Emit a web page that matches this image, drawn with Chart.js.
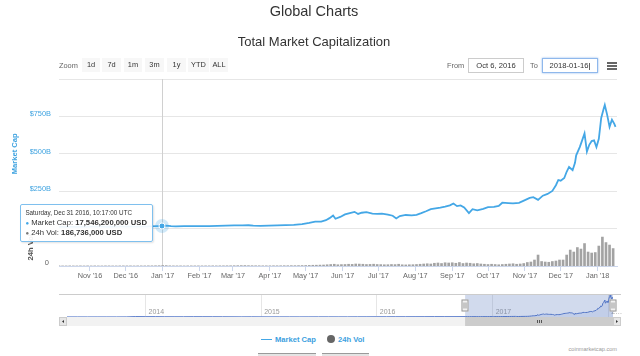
<!DOCTYPE html>
<html><head><meta charset="utf-8">
<script src="https://cdn.jsdelivr.net/npm/chart.js@4.4.1/dist/chart.umd.min.js"></script>
<style>
html,body{margin:0;padding:0;background:#fff;width:640px;height:356px;overflow:hidden;font-family:"Liberation Sans",Arial,sans-serif;}
#wrap{position:relative;width:640px;height:356px;}
.abs{position:absolute;}
#title{left:0;width:628px;top:3px;text-align:center;font-size:14.5px;color:#333;}
#subtitle{left:0;width:628px;top:34px;text-align:center;font-size:13px;color:#333;}
.lbl{font-size:7.4px;color:#666;top:61px;}
.btn{top:58px;height:14px;line-height:14px;background:#f7f7f7;color:#333;font-size:7.4px;text-align:center;}
.inp{top:58px;height:13px;line-height:13px;border:1px solid #cccccc;font-size:7.6px;color:#333;text-align:center;background:#fff;}
#to{border:1px solid #8fb8ec;box-shadow:0 0 2px #8fb8ec;}
.ham{left:607px;width:10px;height:1.6px;background:#666;}
#main{left:0;top:0;}
#nav{left:0;top:290px;}
#tip{background:rgba(255,255,255,0.92);border:1px solid #7fc0ee;border-radius:2px;padding:3px 5px 3px 4px;font-size:7.7px;color:#333;white-space:nowrap;box-shadow:1px 1px 2px rgba(0,0,0,0.12);line-height:9px;}
#tip .tt{font-size:6.3px;color:#333;line-height:10px;}
#tip .dot{font-size:6px;}
.leg{top:335px;font-size:7.6px;font-weight:bold;color:#3d9fe0;}
#credits{right:23px;top:346px;font-size:5.6px;color:#999;}
.bbox{top:353px;height:3px;background:#e4e4e4;border-top:1.5px solid #9a9a9a;}
</style>
</head>
<body>
<div id="wrap">
<canvas id="main" class="abs" width="640" height="290"></canvas>
<canvas id="nav" class="abs" width="640" height="40"></canvas>
<div id="title" class="abs">Global Charts</div>
<div id="subtitle" class="abs">Total Market Capitalization</div>
<div class="abs lbl" style="left:59px;">Zoom</div>
<div id="btns"></div>
<div class="abs lbl" style="left:447px;">From</div>
<div class="abs inp" style="left:468px;width:54px;">Oct 6, 2016</div>
<div class="abs lbl" style="left:530px;">To</div>
<div id="to" class="abs inp" style="left:542px;width:54px;">2018-01-16<span style="color:#000">|</span></div>
<div class="abs ham" style="top:62px"></div>
<div class="abs ham" style="top:65.2px"></div>
<div class="abs ham" style="top:68.4px"></div>
<div id="tip" class="abs"></div>
<div class="abs" style="left:261px;top:338.5px;width:11px;height:1.6px;background:#44a7e6;"></div>
<div class="abs leg" style="left:275px;" id="leg1"></div>
<div class="abs" style="left:327px;top:335px;width:8px;height:8px;border-radius:50%;background:#666;"></div>
<div class="abs leg" style="left:338px;" id="leg2"></div>
<div id="credits" class="abs">coinmarketcap.com</div>
<div class="abs bbox" style="left:258px;width:58px;"></div>
<div class="abs bbox" style="left:322px;width:47px;"></div>
</div>
<script>
// ================= DATA =================
const rangeButtons = ['1d','7d','1m','3m','1y','YTD','ALL'];
const capSeriesName = 'Market Cap';
const volSeriesName = '24h Vol';

// Total market capitalization, billions USD
const capDates = ['2016-10-06','2016-10-13','2016-10-20','2016-10-27','2016-11-03','2016-11-10','2016-11-17','2016-11-24',
 '2016-12-01','2016-12-08','2016-12-15','2016-12-22','2016-12-27','2016-12-31T10:17:00Z','2017-01-04','2017-01-08',
 '2017-01-12','2017-01-19','2017-01-26','2017-02-02','2017-02-09','2017-02-16','2017-02-23','2017-03-02','2017-03-09',
 '2017-03-14','2017-03-18','2017-03-24','2017-03-31','2017-04-07','2017-04-14','2017-04-21','2017-04-28','2017-05-04',
 '2017-05-09','2017-05-14','2017-05-18','2017-05-21','2017-05-24','2017-05-26','2017-05-30','2017-06-03','2017-06-07',
 '2017-06-11','2017-06-14','2017-06-17','2017-06-21','2017-06-26','2017-06-30','2017-07-04','2017-07-09','2017-07-13',
 '2017-07-16','2017-07-19','2017-07-24','2017-07-29','2017-08-02','2017-08-06','2017-08-10','2017-08-14','2017-08-18',
 '2017-08-22','2017-08-26','2017-08-30','2017-09-02','2017-09-05','2017-09-08','2017-09-11','2017-09-15','2017-09-18',
 '2017-09-22','2017-09-27','2017-10-01','2017-10-06','2017-10-10','2017-10-13','2017-10-18','2017-10-22','2017-10-27',
 '2017-11-01','2017-11-05','2017-11-08','2017-11-12','2017-11-16','2017-11-20','2017-11-24','2017-11-27','2017-11-29',
 '2017-12-01','2017-12-04','2017-12-06','2017-12-08','2017-12-11','2017-12-13','2017-12-14','2017-12-17','2017-12-19',
 '2017-12-21','2017-12-23','2017-12-25','2017-12-27','2017-12-29','2017-12-31','2018-01-02','2018-01-04','2018-01-06',
 '2018-01-07','2018-01-09','2018-01-11','2018-01-13','2018-01-15','2018-01-16'];
const capValues = [11.9,11.8,12.0,12.5,13.0,12.6,12.5,12.9,
 13.4,13.5,13.7,15.5,16.8,17.5462,19.5,16.0,
 14.8,16.0,16.5,17.0,16.8,17.8,19.5,21.0,21.5,
 22.5,19.5,18.5,20.5,22.0,23.0,25.0,30.0,38.0,
 46.0,47.0,56.0,70.0,88.0,66.0,78.0,95.0,104.0,
 112.0,98.0,106.0,110.0,100.0,98.0,100.0,94.0,86.0,
 68.0,84.0,91.0,88.0,92.0,103.0,116.0,130.0,135.0,
 140.0,147.0,155.0,168.0,150.0,155.0,141.0,103.0,130.0,
 122.0,132.0,143.0,145.0,152.0,173.0,170.0,168.0,172.0,
 190.0,205.0,210.0,192.0,220.0,232.0,252.0,290.0,325.0,
 320.0,338.0,380.0,412.0,390.0,440.0,490.0,545.0,590.0,
 636.0,515.0,560.0,585.0,590.0,545.0,600.0,740.0,800.0,
 826.0,760.0,680.0,728.0,700.0,680.0];

// 24h volume, billions USD, one bar every 3 days from volStart
const volStart = '2016-10-06';
const volStepDays = 3;
const volValues = [0.2,0.2,0.2,0.3,0.2,0.2,0.3,0.2,0.3,
 0.2,0.3,0.2,0.2,0.3,0.3,0.2,0.2,0.3,0.3,
 0.3,0.3,0.2,0.3,0.3,0.3,0.4,0.4,0.5,0.6,
 1.0,0.8,0.4,0.3,0.3,0.3,0.2,0.3,0.3,0.3,
 0.3,0.3,0.3,0.3,0.4,0.3,0.4,0.4,0.5,0.5,
 0.6,0.7,0.8,0.9,0.7,0.6,0.5,0.5,0.4,0.4,
 0.4,0.5,0.5,0.5,0.6,0.6,0.7,0.7,0.8,0.9,
 1.0,1.2,1.5,1.6,1.8,2.0,2.5,3.0,3.5,2.5,2.8,
 3.0,3.5,3.2,4.0,3.8,3.5,3.0,3.2,3.6,3.0,
 2.8,2.5,2.6,3.0,2.8,3.5,2.4,2.2,2.5,2.6,
 3.0,3.5,4.0,4.5,4.0,5.5,6.0,5.0,6.5,6.0,
 6.5,5.5,7.0,5.0,6.0,5.5,4.5,5.0,4.0,3.5,
 3.0,3.5,3.0,2.5,3.0,3.5,4.0,4.5,3.5,4.0,5.0,
 7.0,8.0,12.0,22.0,9.0,8.0,7.5,9.0,10.0,12.0,
 12.0,22.0,32.0,28.0,37.0,34.0,45.0,28.0,26.0,27.0,
 40.0,58.0,47.0,42.0,35.0];

const xStart = '2016-10-06';
const xEnd = '2018-01-17T06:00:00Z';
const monthTicks = ['2016-11-01','2016-12-01','2017-01-01','2017-02-01','2017-03-01','2017-04-01','2017-05-01',
 '2017-06-01','2017-07-01','2017-08-01','2017-09-01','2017-10-01','2017-11-01','2017-12-01','2018-01-01'];
const monthLabels = ["Nov '16","Dec '16","Jan '17","Feb '17","Mar '17","Apr '17","May '17","Jun '17","Jul '17",
 "Aug '17","Sep '17","Oct '17","Nov '17","Dec '17","Jan '18"];
const capTickValues = [0,250,500,750,1000];
const capTickLabels = ['','$250B','$500B','$750B',''];
const volZeroLabel = '0';

// Navigator (whole history), billions USD
const navStart = '2013-04-28';
const navEnd = '2018-01-16';
const navDates = ['2013-04-28','2013-06-01','2013-07-01','2013-08-01','2013-09-01','2013-10-01','2013-11-01','2013-12-01',
 '2014-01-01','2014-02-01','2014-03-01','2014-04-01','2014-05-01','2014-06-01','2014-07-01','2014-08-01','2014-09-01',
 '2014-10-01','2014-11-01','2014-12-01','2015-01-01','2015-02-01','2015-03-01','2015-04-01','2015-05-01','2015-06-01',
 '2015-07-01','2015-08-01','2015-09-01','2015-10-01','2015-11-01','2015-12-01','2016-01-01','2016-02-01','2016-03-01',
 '2016-04-01','2016-05-01','2016-06-01','2016-07-01','2016-08-01','2016-09-01'];
const navValues = [1.6,1.3,1.1,1.3,1.6,1.7,2.6,13.0,
 10.5,11.0,7.5,6.5,6.5,8.9,8.5,8.0,6.8,
 5.4,4.6,5.4,4.6,3.3,3.9,3.7,3.5,3.6,
 4.2,4.3,3.6,3.7,4.9,5.8,6.9,6.6,7.8,
 7.8,8.5,9.2,11.0,10.1,10.1];
const yearTicks = ['2014-01-01','2015-01-01','2016-01-01','2017-01-01','2018-01-01'];
const yearLabels = ['2014','2015','2016','2017','2…'];

// Hovered point shown in the tooltip
const tooltipDate = '2016-12-31T10:17:00Z';
const tooltipTitle = 'Saturday, Dec 31 2016, 10:17:00 UTC';
const tooltipCap = 17546200000;
const tooltipVol = 186736000;
// ========================================

const DAY = 86400000;
const T = s => Date.parse(s.length === 10 ? s + 'T00:00:00Z' : s);
Chart.defaults.font.family = '"Liberation Sans", Arial, sans-serif';

const CAP_COLOR = '#44a7e6';
const capData = capDates.map((d, i) => ({x: T(d), y: capValues[i]}));
const volData = volValues.map((v, i) => ({x: T(volStart) + i * volStepDays * DAY, y: v}));

// range buttons
const btnLefts = [82, 102, 124, 145, 167, 188, 210];
const btnWidths = [18, 19, 18, 19, 19, 21, 18];
const bw = document.getElementById('btns');
rangeButtons.forEach((b, i) => {
  const d = document.createElement('div');
  d.className = 'abs btn';
  d.style.left = btnLefts[i] + 'px';
  d.style.width = btnWidths[i] + 'px';
  d.textContent = b;
  bw.appendChild(d);
});
document.getElementById('leg1').textContent = capSeriesName;
document.getElementById('leg2').textContent = volSeriesName;

const overlay = {
  id: 'overlay',
  beforeDatasetsDraw(chart) {
    const {ctx, chartArea: a, scales: {x}} = chart;
    const px = Math.round(x.getPixelForValue(T(tooltipDate))) + 0.5;
    ctx.save();
    ctx.strokeStyle = '#d0d0d0'; ctx.lineWidth = 1;
    ctx.beginPath(); ctx.moveTo(px, a.top); ctx.lineTo(px, a.bottom); ctx.stroke();
    ctx.restore();
  },
  afterDatasetsDraw(chart) {
    const {ctx, chartArea: a, scales: {x, y, yv}} = chart;
    const px = x.getPixelForValue(T(tooltipDate));
    const py = y.getPixelForValue(tooltipCap / 1e9);
    ctx.save();
    ctx.fillStyle = 'rgba(68,167,230,0.25)';
    ctx.beginPath(); ctx.arc(px, py, 7, 0, Math.PI * 2); ctx.fill();
    ctx.fillStyle = CAP_COLOR; ctx.strokeStyle = '#fff'; ctx.lineWidth = 1;
    ctx.beginPath(); ctx.arc(px, py, 3, 0, Math.PI * 2); ctx.fill(); ctx.stroke();
    ctx.restore();
    // axis titles
    const capMid = (a.top + y.getPixelForValue(0)) / 2;
    const volMid = (y.getPixelForValue(0) + a.bottom) / 2;
    ctx.save();
    ctx.font = 'bold 7.6px "Liberation Sans", Arial';
    ctx.fillStyle = '#3fa3e0'; ctx.textAlign = 'center'; ctx.textBaseline = 'middle';
    ctx.translate(15, capMid); ctx.rotate(-Math.PI / 2); ctx.fillText(capSeriesName, 0, 0);
    ctx.restore();
    ctx.save();
    ctx.font = 'bold 7.6px "Liberation Sans", Arial';
    ctx.fillStyle = '#555'; ctx.textAlign = 'center'; ctx.textBaseline = 'middle';
    ctx.translate(31, volMid); ctx.rotate(-Math.PI / 2); ctx.fillText(volSeriesName, 0, 0);
    ctx.restore();
    ctx.save();
    ctx.font = '7.5px "Liberation Sans", Arial';
    ctx.fillStyle = '#666'; ctx.textAlign = 'right'; ctx.textBaseline = 'middle';
    ctx.fillText(volZeroLabel, 49, yv.getPixelForValue(0) - 3);
    ctx.restore();
  }
};

const main = new Chart(document.getElementById('main'), {
  type: 'bar',
  data: {datasets: [
    {type: 'line', label: capSeriesName, data: capData, yAxisID: 'y', borderColor: CAP_COLOR, borderWidth: 1.8,
     pointRadius: 0, tension: 0, fill: false, order: 0},
    {type: 'bar', label: volSeriesName, data: volData, yAxisID: 'yv', backgroundColor: '#a3a3a3',
     barThickness: 2, order: 1}
  ]},
  options: {
    animation: false, responsive: false, maintainAspectRatio: false, events: [],
    layout: {padding: {top: 79, right: 23, left: 0, bottom: 0}},
    plugins: {legend: {display: false}, tooltip: {enabled: false}},
    scales: {
      x: {type: 'linear', min: T(xStart), max: T(xEnd), offset: false,
        afterBuildTicks: s => { s.ticks = monthTicks.map(d => ({value: T(d)})); },
        afterFit: s => { s.height = 24; },
        grid: {drawOnChartArea: false, drawTicks: true, tickLength: 5, color: '#ccd6eb', offset: false},
        border: {color: '#ccd6eb'},
        ticks: {autoSkip: false, maxRotation: 0, padding: 1, color: '#666', font: {size: 7.3},
          callback: (v, i) => monthLabels[i]}
      },
      y: {position: 'left', min: -250, max: 1000,
        afterBuildTicks: s => { s.ticks = capTickValues.map(v => ({value: v})); },
        afterFit: s => { s.width = 59; },
        grid: {color: '#e6e6e6', drawTicks: false},
        border: {display: false},
        ticks: {padding: 8, color: '#3fa3e0', font: {size: 7.4}, labelOffset: -2,
          callback: (v, i) => capTickLabels[i]}
      },
      yv: {position: 'left', min: 0, max: 375, display: false}
    }
  },
  plugins: [overlay]
});

// tooltip
const tip = document.getElementById('tip');
const fmt = n => n.toLocaleString('en-US');
tip.innerHTML = '<div class="tt">' + tooltipTitle + '</div>' +
  '<div><span class="dot" style="color:' + CAP_COLOR + '">●</span> ' + capSeriesName + ': <b>' + fmt(tooltipCap) + ' USD</b></div>' +
  '<div><span class="dot" style="color:#777">●</span> ' + volSeriesName + ': <b>' + fmt(tooltipVol) + ' USD</b></div>';
const tIdx = capDates.indexOf(tooltipDate);
const pt = main.getDatasetMeta(0).data[tIdx];
tip.style.right = (640 - (pt.x - 9)) + 'px';
tip.style.top = (pt.y - 22) + 'px';

// navigator
const navDeco = {
  id: 'navDeco',
  afterDraw(chart) {
    const {ctx, chartArea: a, scales: {x}} = chart;
    const x1 = x.getPixelForValue(T(xStart));
    const x2 = x.getPixelForValue(T(navEnd));
    const L = a.left - 8, R = a.right + 8;
    ctx.save();
    // year labels
    ctx.font = '7px "Liberation Sans", Arial';
    ctx.fillStyle = '#999'; ctx.textAlign = 'left'; ctx.textBaseline = 'middle';
    yearTicks.forEach((d, i) => ctx.fillText(yearLabels[i], x.getPixelForValue(T(d)) + 3, a.bottom - 5));
    ctx.fillStyle = 'rgba(102,133,194,0.3)';
    ctx.fillRect(x1, a.top, x2 - x1, a.bottom - a.top);
    ctx.strokeStyle = '#cccccc'; ctx.lineWidth = 1;
    ctx.beginPath(); ctx.moveTo(L, a.top + 0.5); ctx.lineTo(R, a.top + 0.5); ctx.stroke();
    // scrollbar
    const sy = a.bottom, sh = 9;
    ctx.fillStyle = '#f2f2f2'; ctx.fillRect(L, sy, R - L, sh);
    ctx.fillStyle = '#cccccc'; ctx.fillRect(x1, sy, x2 - x1, sh);
    ctx.fillStyle = '#e6e6e6';
    ctx.fillRect(L, sy, 8, sh); ctx.fillRect(a.right, sy, 8, sh);
    ctx.strokeStyle = '#cccccc';
    ctx.strokeRect(L + 0.5, sy + 0.5, 7, sh - 1); ctx.strokeRect(a.right + 0.5, sy + 0.5, 7, sh - 1);
    ctx.fillStyle = '#333';
    ctx.beginPath(); ctx.moveTo(L + 5, sy + 3); ctx.lineTo(L + 3, sy + 4.5); ctx.lineTo(L + 5, sy + 6); ctx.fill();
    ctx.beginPath(); ctx.moveTo(a.right + 3, sy + 3); ctx.lineTo(a.right + 5, sy + 4.5); ctx.lineTo(a.right + 3, sy + 6); ctx.fill();
    const gx = Math.round((x1 + x2) / 2);
    ctx.fillStyle = '#555';
    for (let k = -2; k <= 2; k += 2) ctx.fillRect(gx + k, sy + 3, 1, 3);
    // handles
    const hy = (a.top + a.bottom) / 2;
    [x1, x2].forEach(hx => {
      const rx = Math.round(hx) - 3.5;
      ctx.fillStyle = '#f2f2f2'; ctx.strokeStyle = '#999';
      ctx.fillRect(rx, hy - 6, 7, 12); ctx.strokeRect(rx + 0.5, hy - 6 + 0.5, 6, 11);
      ctx.fillStyle = '#999';
      ctx.fillRect(rx + 2, hy - 3, 1, 6); ctx.fillRect(rx + 4, hy - 3, 1, 6);
    });
    ctx.restore();
  }
};

const navData = navDates.map((d, i) => ({x: T(d), y: navValues[i]})).concat(capData);
new Chart(document.getElementById('nav'), {
  type: 'line',
  data: {datasets: [{data: navData, borderColor: '#4a6fc6', borderWidth: 1,
    backgroundColor: 'rgba(74,111,198,0.12)', fill: 'origin', pointRadius: 0, tension: 0}]},
  options: {
    animation: false, responsive: false, events: [],
    layout: {padding: {top: 4, left: 67, right: 27, bottom: 0}},
    plugins: {legend: {display: false}, tooltip: {enabled: false}},
    scales: {
      x: {type: 'linear', min: T(navStart), max: T(navEnd),
        afterBuildTicks: s => { s.ticks = yearTicks.map(d => ({value: T(d)})); },
        afterFit: s => { s.height = 13; },
        grid: {color: '#e6e6e6', drawTicks: false},
        border: {display: false},
        ticks: {display: false}
      },
      y: {min: 0, max: 860, display: false}
    }
  },
  plugins: [navDeco]
});
</script>
</body></html>
